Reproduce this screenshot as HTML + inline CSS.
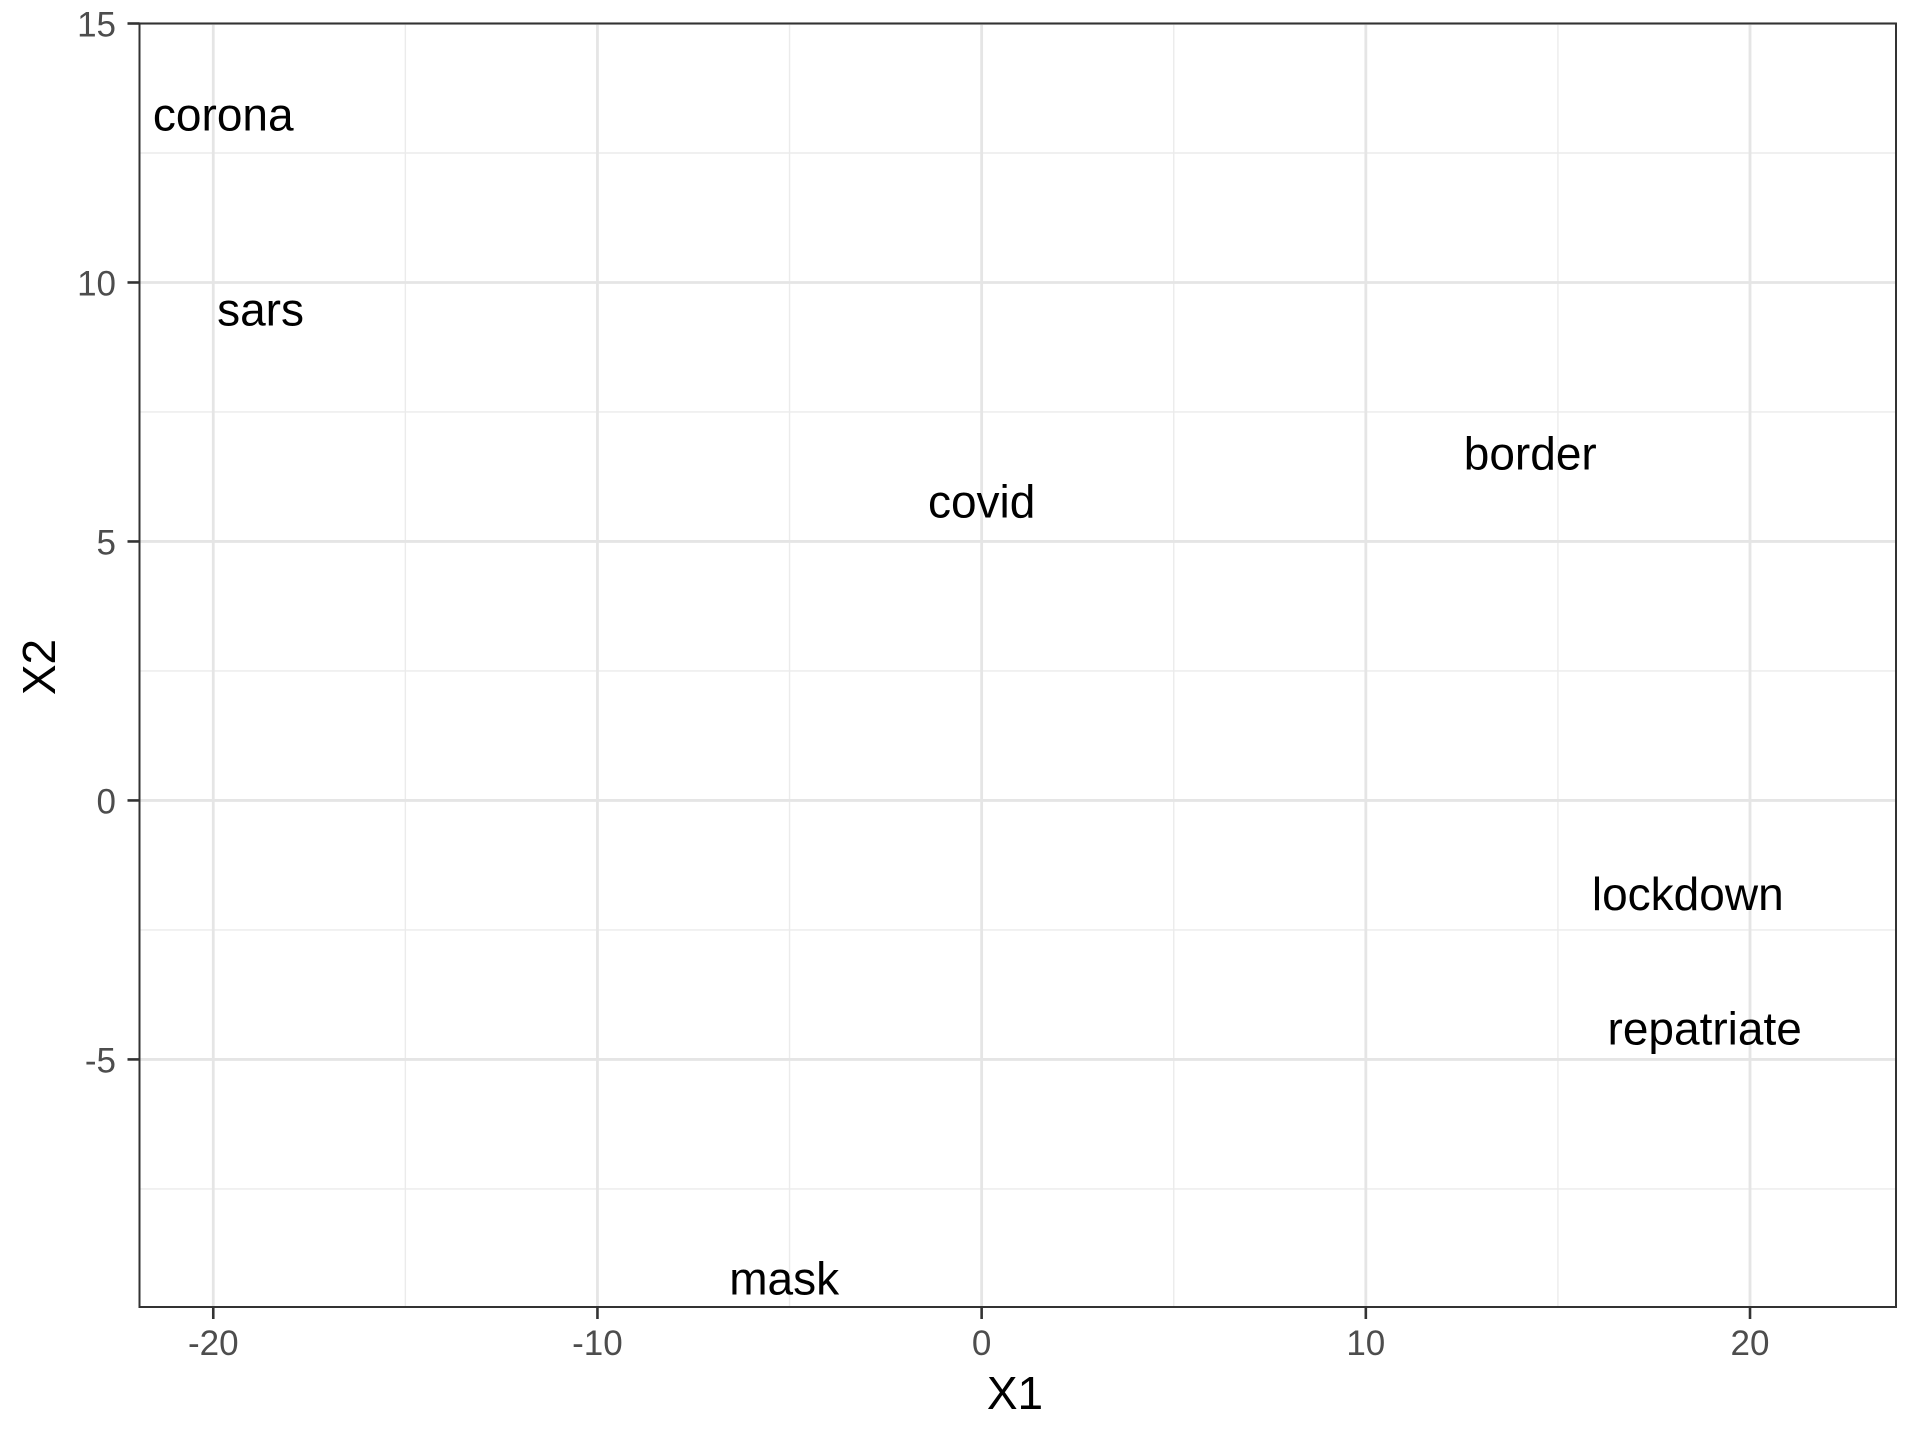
<!DOCTYPE html>
<html><head><meta charset="utf-8"><style>
html,body{margin:0;padding:0;background:#fff;}
svg{display:block;font-family:"Liberation Sans",Arial,sans-serif;}
</style></head><body>
<svg id="chart" width="1920" height="1440" viewBox="0 0 1920 1440" xmlns="http://www.w3.org/2000/svg">
<rect x="0" y="0" width="1920" height="1440" fill="#fff"/>
<g id="grid"></g>
<g id="marks"></g>
<rect x="139.5" y="23.5" width="1756.5" height="1283.5" fill="none" stroke="#333" stroke-width="2"/>
<g id="axes"></g>
<text x="1015" y="1409" font-size="46" text-anchor="middle" fill="#000">X1</text>
<text transform="translate(55,667) rotate(-90)" font-size="46" text-anchor="middle" fill="#000">X2</text>
</svg>
<script>
const words = ["corona","sars","covid","border","lockdown","repatriate","mask"];
const xValues = [-19.74,-18.77,0.0,14.28,18.38,18.82,-5.14];
const yValues = [13.24,9.48,5.77,6.7,-1.81,-4.40,-9.23];
const xTicks = [-20,-10,0,10,20];
const xTickLabels = ["-20","-10","0","10","20"];
const yTicks = [-5,0,5,10,15];
const yTickLabels = ["-5","0","5","10","15"];
const xMinor = [-15,-5,5,15];
const yMinor = [-7.5,-2.5,2.5,7.5,12.5];

const L=139.5,R=1896,T=23.5,B=1307;
const xMin=-21.92,xMax=23.80,yMin=-9.78,yMax=15;
function sx(v){return L+(v-xMin)/(xMax-xMin)*(R-L);}
function sy(v){return B-(v-yMin)/(yMax-yMin)*(B-T);}
const NS="http://www.w3.org/2000/svg";
function mk(tag,attrs,parent){const e=document.createElementNS(NS,tag);for(const k in attrs)e.setAttribute(k,attrs[k]);parent.appendChild(e);return e;}
const grid=document.getElementById('grid'),marks=document.getElementById('marks'),axes=document.getElementById('axes');
xMinor.forEach(v=>{const e=mk('line',{x1:sx(v),x2:sx(v),y1:T,y2:B,stroke:'#ebebeb','stroke-width':1.4},grid);

});
yMinor.forEach(v=>{const e=mk('line',{x1:L,x2:R,y1:sy(v),y2:sy(v),stroke:'#ebebeb','stroke-width':1.4},grid);

});
xTicks.forEach((v,i)=>{const e=mk('line',{x1:sx(v),x2:sx(v),y1:T,y2:B,stroke:'#e5e5e5','stroke-width':2.8},grid);


const t=mk('line',{x1:sx(v),x2:sx(v),y1:B,y2:B+12,stroke:'#333','stroke-width':2.6},axes);


const l=mk('text',{x:sx(v),y:1355,'font-size':35,'text-anchor':'middle',fill:'#4d4d4d'},axes);l.textContent=xTickLabels[i];

});
yTicks.forEach((v,i)=>{const e=mk('line',{x1:L,x2:R,y1:sy(v),y2:sy(v),stroke:'#e5e5e5','stroke-width':2.8},grid);


const t=mk('line',{x1:L-12,x2:L,y1:sy(v),y2:sy(v),stroke:'#333','stroke-width':2.6},axes);


const l=mk('text',{x:116,y:sy(v)+13,'font-size':35,'text-anchor':'end',fill:'#4d4d4d'},axes);l.textContent=yTickLabels[i];

});
words.forEach((w,i)=>{const t=mk('text',{x:sx(xValues[i]),y:sy(yValues[i])+16,'font-size':46,'text-anchor':'middle',fill:'#000'},marks);t.textContent=w;

});
</script>
</body></html>
